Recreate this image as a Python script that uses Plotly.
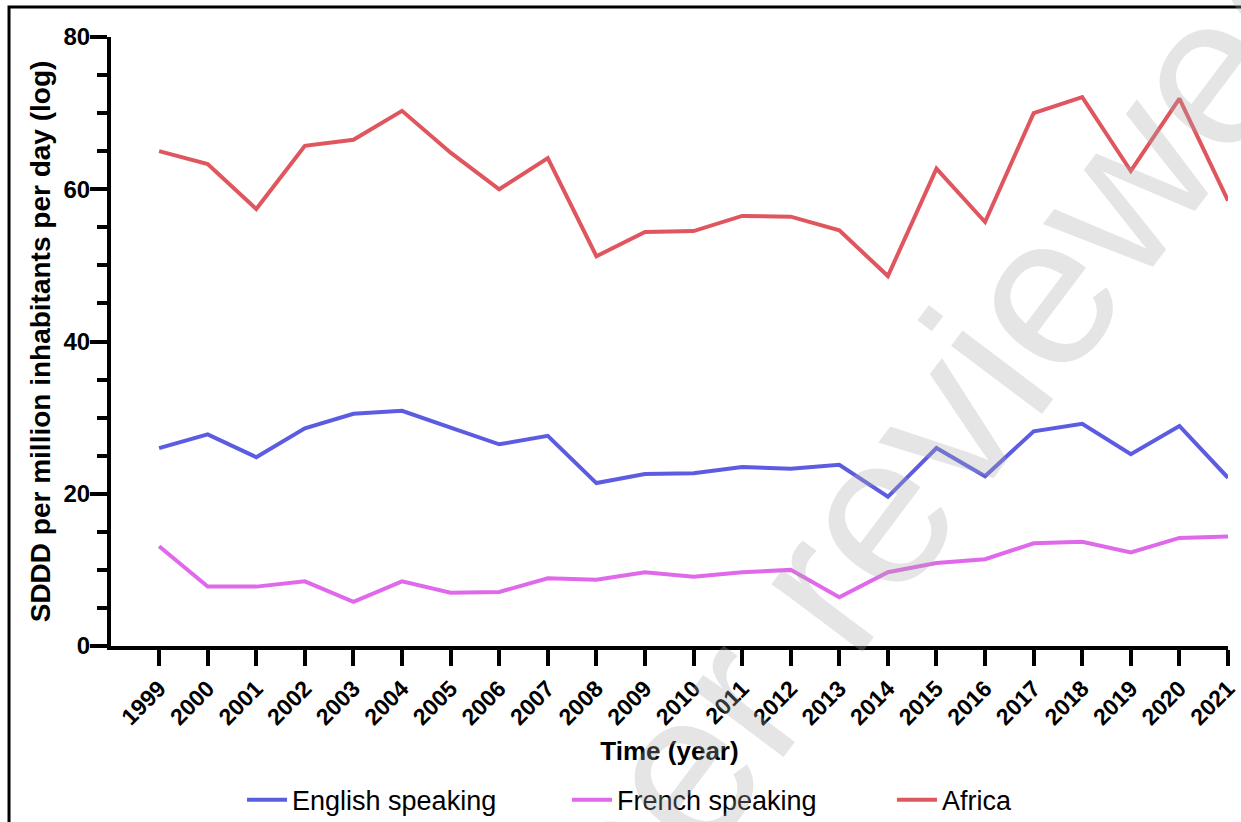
import plotly.graph_objects as go

# Annual consumption, SDDD per million inhabitants per day
years = [str(y) for y in range(1999, 2022)]
english_speaking = [26.0, 27.8, 24.8, 28.6, 30.5, 30.9, 28.7, 26.5, 27.6, 21.4, 22.6, 22.7,
                    23.5, 23.3, 23.8, 19.6, 26.0, 22.3, 28.2, 29.2, 25.2, 28.9, 22.1]
french_speaking = [13.1, 7.8, 7.8, 8.5, 5.8, 8.5, 7.0, 7.1, 8.9, 8.7, 9.7, 9.1,
                   9.7, 10.0, 6.4, 9.7, 10.9, 11.4, 13.5, 13.7, 12.3, 14.2, 14.4]
africa = [65.0, 63.3, 57.4, 65.7, 66.5, 70.3, 64.8, 60.0, 64.1, 51.2, 54.4, 54.5,
          56.5, 56.4, 54.6, 48.6, 62.7, 55.7, 70.0, 72.1, 62.4, 71.9, 58.5]
y_ticks = [0, 20, 40, 60, 80]

series = [
    ("English speaking", english_speaking, "#5C5CE2"),
    ("French speaking", french_speaking, "#E068EA"),
    ("Africa", africa, "#E0565F"),
]

FONT = "Liberation Sans, Arial, Helvetica, sans-serif"

fig = go.Figure()
for name, values, color in series:
    fig.add_trace(go.Scatter(
        x=years, y=values, mode="lines", name=name,
        line=dict(color=color, width=4),
    ))

fig.update_layout(
    width=1241, height=822,
    margin=dict(l=111, r=13, t=37, b=176, autoexpand=False),
    paper_bgcolor="white", plot_bgcolor="white",
    font=dict(family=FONT, color="black"),
    showlegend=True,
    legend=dict(
        orientation="h", x=0.1173, xanchor="left", y=-0.253, yanchor="middle",
        font=dict(size=27, family=FONT, color="black"),
        itemwidth=40, entrywidth=270, entrywidthmode="pixels",
        bgcolor="rgba(0,0,0,0)",
    ),
    xaxis=dict(
        type="category", range=[-0.99, 22], automargin=False,
        showline=True, linecolor="black", linewidth=4,
        ticks="outside", ticklen=16, tickwidth=4, tickcolor="black",
        tickangle=-45, tickfont=dict(size=23, family=FONT, color="black", weight="bold"),
        showgrid=False, zeroline=False,
        title=dict(text="<b>Time (year)</b>", font=dict(size=26, family=FONT), standoff=14),
    ),
    yaxis=dict(
        range=[0, 80], tickvals=y_ticks, automargin=False,
        showline=True, linecolor="black", linewidth=4,
        ticks="outside", ticklen=17, tickwidth=4, tickcolor="black",
        ticklabelstandoff=-5,
        tickfont=dict(size=24, family=FONT, color="black", weight="bold"),
        minor=dict(dtick=5, ticks="outside", ticklen=10, tickwidth=4, tickcolor="black"),
        showgrid=False, zeroline=False,
        title=dict(text="<b>SDDD per million inhabitants per day (log)</b>",
                   font=dict(size=28, family=FONT), standoff=6),
    ),
)

# Outer frame
fig.add_shape(type="rect", xref="paper", yref="paper",
              x0=-0.0913, x1=1.03, y0=-0.32, y1=1.0493,
              line=dict(color="black", width=3), fillcolor="rgba(0,0,0,0)")

# Diagonal watermark
fig.add_annotation(
    text="peer reviewed", xref="paper", yref="paper",
    x=0.711, y=0.287, xanchor="center", yanchor="middle",
    showarrow=False, textangle=-53,
    font=dict(size=215, family=FONT, color="rgba(170,170,170,0.3)"),
)

fig.write_html("out.html")
